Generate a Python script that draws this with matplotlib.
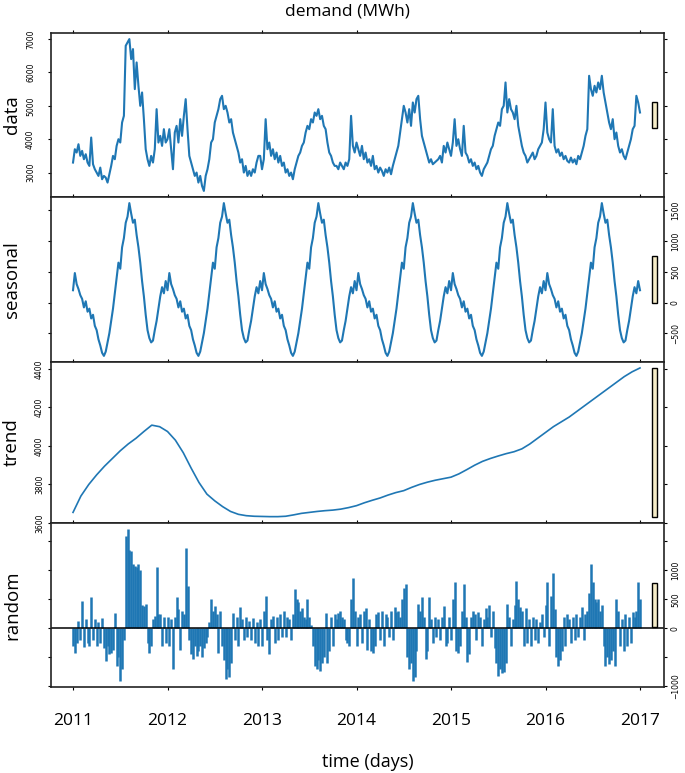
import numpy as np
import matplotlib
matplotlib.use("Agg")
import matplotlib.pyplot as plt
from matplotlib.patches import Rectangle

plt.rcParams['font.family'] = ['Open Sans', 'DejaVu Sans']

# weekly demand values (MWh)
data_2011 = [3300, 3700, 3600, 3850, 3500, 3650, 3400, 3550, 3300, 3200,
             4050, 3250, 3100, 3000, 2900, 3150, 2800, 2900, 2850, 2700,
             2950, 3200, 3500, 3400, 3800, 4000, 3900, 4500, 4700, 6800,
             6900, 7000, 6400, 6700, 5500, 6300, 5600, 5000, 5400, 4600,
             3700, 3400, 3200, 3500, 3300, 3700, 4900, 3900, 4100, 3800,
             4300, 3900]
data_2012 = [4000, 4300, 3700, 3100, 4200, 4400, 3900, 4600, 4100, 4700,
             5200, 4300, 3500, 3300, 3100, 2900, 3000, 2700, 2900, 2600,
             2450, 2900, 3100, 3400, 3900, 4000, 4500, 4700, 4900, 5200,
             5300, 4900, 5000, 4800, 4500, 4600, 4200, 4000, 3800, 3600,
             3300, 3400, 3000, 3200, 2900, 3050, 2900, 3100, 3000, 3300,
             3500, 3500]
data_2013 = [3100, 3400, 4600, 3700, 3900, 3500, 3700, 3400, 3600, 3300,
             3500, 3200, 3300, 3000, 3100, 2900, 3000, 2800, 3100, 3300,
             3500, 3600, 3800, 3900, 4200, 4400, 4300, 4600, 4500, 4800,
             4700, 4900, 4600, 4700, 4400, 4300, 3900, 3600, 3500, 3300,
             3200, 3200, 3100, 3300, 3200, 3100, 3300, 3200, 3400, 4700,
             3800, 3600]
data_2014 = [3900, 3700, 3500, 3800, 3400, 3600, 3300, 3400, 3200, 3500,
             3100, 3200, 3000, 3150, 3050, 2900, 3100, 3000, 3150, 2950,
             3200, 3400, 3600, 3800, 4200, 4600, 5000, 4800, 4500, 4900,
             4400, 5100, 4800, 5200, 5300, 4600, 4100, 3900, 3700, 3500,
             3300, 3400, 3250, 3300, 3350, 3400, 3500, 3300, 3800, 3600,
             3900, 3700]
data_2015 = [3500, 3900, 4600, 3800, 4000, 3700, 3500, 4400, 3600, 3500,
             3300, 3400, 3200, 3300, 3100, 3200, 3000, 2900, 3100, 3200,
             3300, 3500, 3700, 3800, 4100, 4300, 4500, 4400, 4900, 5000,
             5700, 4800, 5200, 4900, 4800, 4600, 5000, 4400, 4100, 3800,
             3600, 3500, 3300, 3400, 3500, 3600, 3400, 3500, 3700, 3800,
             3900, 4300]
data_2016 = [5100, 4200, 4000, 3900, 4900, 3800, 3600, 3700, 3500, 3600,
             3400, 3500, 3350, 3300, 3450, 3300, 3400, 3250, 3500, 3400,
             3600, 3800, 4100, 4300, 5900, 5500, 5300, 5600, 5400, 5700,
             5500, 5900, 5400, 5100, 4800, 4500, 4300, 4600, 4000, 4200,
             3800, 3600, 3700, 3500, 3400, 3600, 3800, 4000, 4300, 4400,
             5300, 5100, 4800]

# one year of the (periodic) seasonal component, weekly
season_week = [200, 480, 300, 220, 120, 60, -80, 20, -150, -100,
               -260, -200, -380, -450, -600, -700, -820, -870, -800, -650,
               -500, -300, -100, 150, 400, 650, 550, 900, 1050, 1300,
               1400, 1620, 1450, 1300, 1350, 1100, 900, 650, 350, 100,
               -200, -450, -580, -650, -620, -450, -300, -100, 100, 250,
               150, 350]

# monthly trend 2011-01 .. 2017-01
trend_month = [3655, 3740, 3800, 3850, 3895, 3935, 3975, 4010, 4040, 4075, 4108, 4100,
               4075, 4030, 3965, 3885, 3810, 3750, 3715, 3685, 3660, 3645, 3638, 3635,
               3634, 3633, 3633, 3635, 3642, 3650, 3655, 3660, 3664, 3667, 3672, 3680,
               3690, 3705, 3718, 3730, 3745, 3758, 3768, 3785, 3800, 3812, 3822, 3830,
               3838, 3855, 3877, 3900, 3920, 3935, 3948, 3960, 3970, 3985, 4010, 4040,
               4070, 4100, 4125, 4150, 4180, 4210, 4240, 4270, 4300, 4330, 4360, 4385,
               4405]

# weekly remainder
random_2011 = [-300, -420, -250, 120, -200, 470, -330, 150, -250, -300,
               530, -200, 150, -300, 100, -250, 180, -350, -560, -300,
               -450, -420, -380, 270, -650, -500, -910, -700, -200, 1590,
               1710, 1350, 1330, 1100, 1080, 1050, 1100, 1000, 400, 380,
               410, -250, -420, -300, 150, 210, 1050, 250, 240, -300,
               200, -250]
random_2012 = [200, -300, 150, -700, 200, 530, 330, -380, 300, 250,
               1390, 730, -200, -450, -530, -300, -480, -400, -300, -500,
               -350, -250, -150, 100, 500, 300, 385, 250, -430, 300,
               -300, -550, -880, -700, -850, -600, 270, -200, 200, -300,
               360, 150, -200, 200, -150, 120, -200, 180, -250, 100,
               -300, 150]
random_2013 = [-300, 300, 560, -200, -450, 150, 210, -250, 200, -200,
               250, -150, 300, -150, 200, 150, -200, 250, 670, 500,
               450, 300, 350, 200, 150, 500, 200, 50, -300, -650,
               -700, -550, -740, -600, -500, 270, -600, -400, 200, -300,
               250, 150, 270, 300, 200, 150, -200, -250, -300, 500,
               870, 300]
random_2014 = [-300, 200, 250, -250, 300, 350, -380, 150, -400, -420,
               -300, 250, 280, -200, 300, -300, 250, 200, -150, 300,
               -200, 360, 280, 300, 200, 500, 700, 760, -500, -700,
               -600, -910, -850, -400, 410, 300, 530, 200, -530, -400,
               530, 150, -250, 200, -150, 150, -200, 200, 385, -300,
               -250, 200]
random_2015 = [-200, 500, 790, -400, -420, -300, 300, 760, 200, -590,
               -450, 200, 300, 250, -200, 280, 200, -300, 150, 350,
               200, 400, -150, 300, -350, -600, -820, -700, -780, -750,
               -600, 410, 200, -300, 150, 400, 820, 500, 360, 300,
               -300, 350, -250, 150, -300, 200, -200, 150, -250, 100,
               250, -150]
random_2016 = [400, 790, -300, 550, 960, 330, -500, -650, -550, -400,
               200, -300, 250, 150, -250, 200, -200, 250, -150, 200,
               360, -200, 250, 300, 600, 1100, 800, 500, 450, 500,
               300, 400, -300, -650, -500, -620, -550, -400, -650, 500,
               300, -300, 150, -390, 250, -300, 200, -250, 280, 200,
               300, 790, 500]

years = [2011, 2012, 2013, 2014, 2015, 2016, 2017]
data_ticks = [3000, 4000, 5000, 6000, 7000]
seasonal_ticks = [-500, 0, 500, 1000, 1500]
trend_ticks = [3600, 3800, 4000, 4200, 4400]
random_ticks = [-1000, -500, 0, 500, 1000, 1500]
random_ticklabels = ['\u22121000', '', '0', '500', '1000', '']

BLUE = '#1f77b4'
CREAM = '#f5ecc8'
W, H = 685, 773


def main():
    data = np.array(data_2011 + data_2012 + data_2013 + data_2014 + data_2015 + data_2016)
    seasonal = np.array(season_week * 6 + season_week[:1])
    trend = np.array(trend_month)
    random = np.array(random_2011 + random_2012 + random_2013 + random_2014
                      + random_2015 + random_2016)
    t_week = 2011 + np.arange(len(data)) / 52
    t_month = 2011 + np.arange(len(trend)) / 12

    fig = plt.figure(figsize=(W / 100, H / 100), dpi=100)

    # panel edges in pixels (top, bottom)
    rows = [(33, 197), (197, 362), (362, 523), (523, 687)]
    left, right = 51, 664
    # name, x, y, ticks, tick labels, label side, label pad (pt)
    series = [
        ('data', t_week, data, data_ticks, None, 'left', 9),
        ('seasonal', t_week, seasonal, seasonal_ticks, None, 'right', 2.5),
        ('trend', t_month, trend, trend_ticks, None, 'left', 2.5),
        ('random', t_week, random, random_ticks, random_ticklabels, 'right', 2.5),
    ]
    bar_h = min(s[2].max() - s[2].min() for s in series)

    for i, (name, t, y, ticks, tlabels, side, pad) in enumerate(series):
        top, bot = rows[i]
        ax = fig.add_axes([left / W, 1 - bot / H, (right - left) / W, (bot - top) / H])
        if name == 'random':
            ax.vlines(t, 0, y, color=BLUE, lw=1.8)
            ax.axhline(0, color='black', lw=1.1)
        elif name == 'trend':
            ax.plot(t, y, color=BLUE, lw=1.2)
        else:
            ax.plot(t, y, color=BLUE, lw=1.5)

        lo, hi = y.min(), y.max()
        r = hi - lo
        ax.set_ylim(lo - 0.04 * r, hi + 0.04 * r)
        ax.set_xlim(2010.767, 2017.254)

        mid = (lo + hi) / 2
        ax.add_patch(Rectangle((2017.13, mid - bar_h / 2), 0.055, bar_h,
                               facecolor=CREAM, edgecolor='black', lw=1.0))

        ax.set_yticks(ticks)
        if tlabels is not None:
            ax.set_yticklabels(tlabels)
        ax.tick_params(axis='y', left=True, right=True,
                       labelleft=(side == 'left'), labelright=(side == 'right'),
                       labelsize=5.5, labelrotation=90, direction='out',
                       length=2.5, pad=pad, width=0.8)
        for lab in ax.get_yticklabels():
            lab.set_verticalalignment('center')
            lab.set_family('DejaVu Sans')

        ax.set_xticks(years)
        ax.tick_params(axis='x', top=True, bottom=True, direction='out',
                       length=2.5, width=0.8, labelbottom=(i == 3),
                       labelsize=12.5, pad=16)
        for sp in ax.spines.values():
            sp.set_linewidth(1.2)
            sp.set_color('#222222')

        fig.text(12 / W, 1 - (top + bot) / 2 / H, name, rotation=90,
                 ha='center', va='center', fontsize=13.5)

    fig.text(347 / W, 1 - 12 / H, 'demand (MWh)', ha='center', va='center', fontsize=12.5)
    fig.text(368 / W, 1 - 762 / H, 'time (days)', ha='center', va='center', fontsize=13)

    fig.savefig('out.png', dpi=100)


if __name__ == "__main__":
    main()
